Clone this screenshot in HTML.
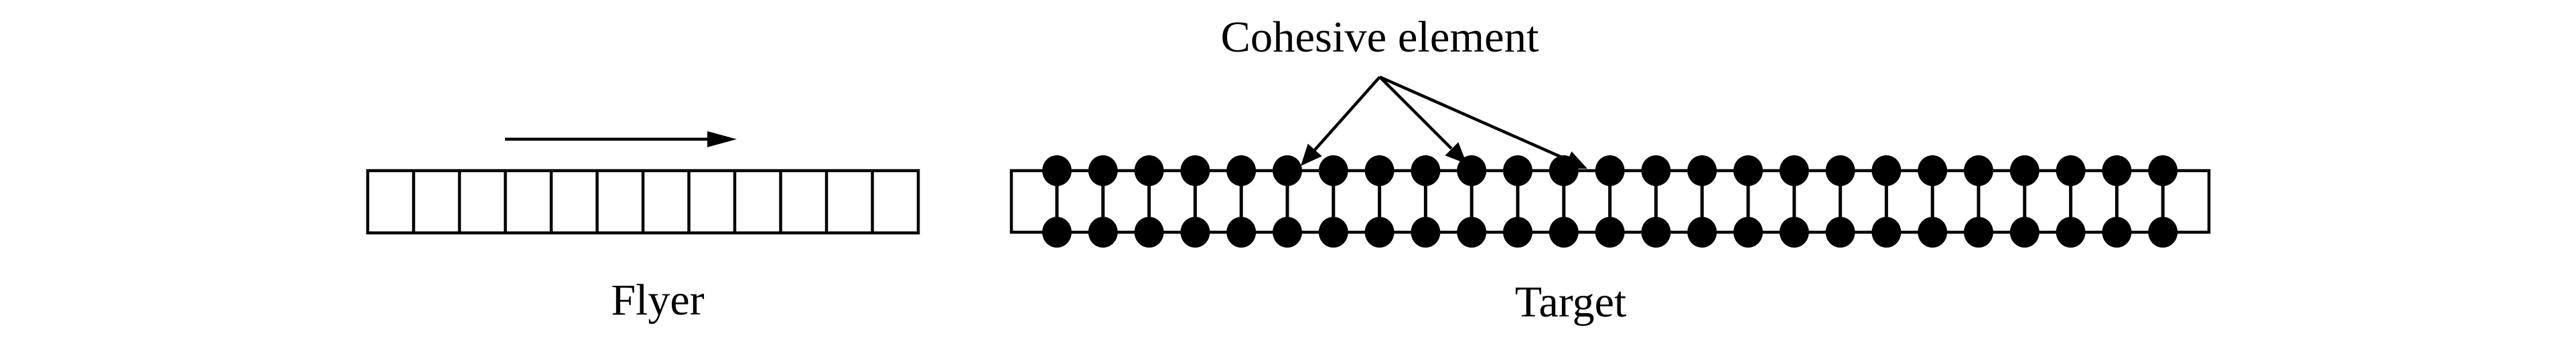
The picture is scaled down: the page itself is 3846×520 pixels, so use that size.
<!DOCTYPE html>
<html><head><meta charset="utf-8"><style>html,body{margin:0;padding:0;background:#fff;}svg{display:block}</style></head>
<body>
<svg width="3846" height="520" viewBox="0 0 3846 520" xmlns="http://www.w3.org/2000/svg">
<defs>
<g id="d">
<line x1="0" y1="255" x2="0" y2="347" stroke="#000" stroke-width="5"/>
<ellipse cx="0" cy="255" rx="22" ry="23" fill="#000"/>
<ellipse cx="0" cy="347" rx="22" ry="23" fill="#000"/>
</g>
</defs>
<g stroke="#000" stroke-width="4.5" fill="none">
<rect x="549" y="255" width="822" height="93" fill="#fff"/>
<path d="M617.5 255V348M686 255V348M754.5 255V348M823 255V348M891.5 255V348M960 255V348M1028.5 255V348M1097 255V348M1165.5 255V348M1234 255V348M1302.5 255V348"/>
<line x1="754" y1="208" x2="1060" y2="208"/>
<rect x="1510" y="255" width="1788" height="92"/>
</g>
<polygon points="1100,208 1056,196 1056,220" fill="#000"/>
<use href="#d" x="1578"/><use href="#d" x="1646.8"/><use href="#d" x="1715.6"/><use href="#d" x="1784.4"/><use href="#d" x="1853.2"/>
<use href="#d" x="1922"/><use href="#d" x="1990.8"/><use href="#d" x="2059.6"/><use href="#d" x="2128.4"/><use href="#d" x="2197.2"/>
<use href="#d" x="2266"/><use href="#d" x="2334.8"/><use href="#d" x="2403.6"/><use href="#d" x="2472.4"/><use href="#d" x="2541.2"/>
<use href="#d" x="2610"/><use href="#d" x="2678.8"/><use href="#d" x="2747.6"/><use href="#d" x="2816.4"/><use href="#d" x="2885.2"/>
<use href="#d" x="2954"/><use href="#d" x="3022.8"/><use href="#d" x="3091.6"/><use href="#d" x="3160.4"/><use href="#d" x="3229.2"/>
<g stroke="#000" stroke-width="4.5">
<line x1="2060" y1="115" x2="1963" y2="224"/>
<line x1="2060" y1="115" x2="2167" y2="222"/>
<line x1="2060" y1="115" x2="2341" y2="239"/>
</g>
<g fill="#000">
<polygon points="1942,248 1973.7,233.4 1952.7,214.8"/>
<polygon points="2190,245 2157.5,232.3 2177.3,212.5"/>
<polygon points="2370,252 2335,251.9 2346.4,226.3"/>
</g>
<g font-family="Liberation Serif, serif" font-size="66" fill="#000">
<text x="982" y="470" text-anchor="middle">Flyer</text>
<text x="2060" y="77" text-anchor="middle" textLength="475" lengthAdjust="spacingAndGlyphs">Cohesive element</text>
<text x="2345" y="473" text-anchor="middle">Target</text>
</g>
</svg>
</body></html>
